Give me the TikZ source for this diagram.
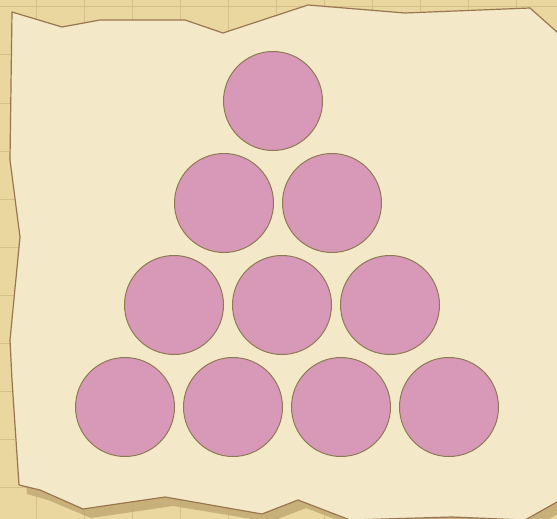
\documentclass[tikz,border=0pt]{standalone}
\usepackage{xcolor}
\usepackage{tikz}
\usetikzlibrary{positioning}

\definecolor{deskTan}{HTML}{EAD7A0}
\definecolor{gridTan}{HTML}{D6C08A}
\definecolor{paperCream}{HTML}{F3E8C8}
\definecolor{paperEdge}{HTML}{9A7650}
\definecolor{shadowTan}{HTML}{BFA771}
\definecolor{ballPink}{HTML}{D898B8}
\definecolor{ballEdge}{HTML}{8E7A52}

\tikzset{
  ball/.style={draw=ballEdge, fill=ballPink, circle, line width=1pt, minimum size=99pt, inner sep=0pt},
  paper/.style={draw=paperEdge, fill=paperCream, line width=1.2pt, line join=round}
}

\begin{document}
\begin{tikzpicture}[x=1pt, y=-1pt]
\useasboundingbox (0,0) rectangle (557,519);
% Desk
\fill[deskTan] (0,0) rectangle (557,519);
\foreach \x in {36,84,...,560} {
   \draw[gridTan, line width=1pt] (\x,0) -- (\x,519);
}
\foreach \y in {7,55,...,520} {
   \draw[gridTan, line width=1pt] (0,\y) -- (557,\y);
}

% Paper (shadow first)
\fill[shadowTan, opacity=0.8] (20,20) -- (70,35) -- (108,28) -- (193,28) -- (231,41) -- (316,13)
   -- (413,21) -- (538,16) -- (565,40) -- (565,510) -- (533,528) -- (460,525) -- (358,528)
   -- (306,508) -- (270,522) -- (173,506) -- (91,518) -- (48,500) -- (27,494) -- (20,388)
   -- (18,353) -- (28,245) -- (18,168) -- cycle;
\draw[paper] (12,12) -- (62,27) -- (100,20) -- (185,20) -- (223,33) -- (308,5)
   -- (405,13) -- (530,8) -- (557,32) -- (562,36) -- (562,499) -- (557,502) -- (525,520)
   -- (452,517) -- (350,520) -- (298,500) -- (262,514) -- (165,497) -- (83,509)
   -- (40,490) -- (19,485) -- (12,380) -- (10,340) -- (20,237) -- (10,160) -- cycle;

% Balls, rows from the top
\foreach \c in {1} {
   \node[ball] (ball-1-\c) at ({273+108*(\c-1)}, 101) {};
}
\foreach \c in {1,2} {
   \node[ball] (ball-2-\c) at ({224+108*(\c-1)}, 203) {};
}
\foreach \c in {1,2,3} {
   \node[ball] (ball-3-\c) at ({174+108*(\c-1)}, 305) {};
}
\foreach \c in {1,2,3,4} {
   \node[ball] (ball-4-\c) at ({125+108*(\c-1)}, 407) {};
}
\end{tikzpicture}
\end{document}
